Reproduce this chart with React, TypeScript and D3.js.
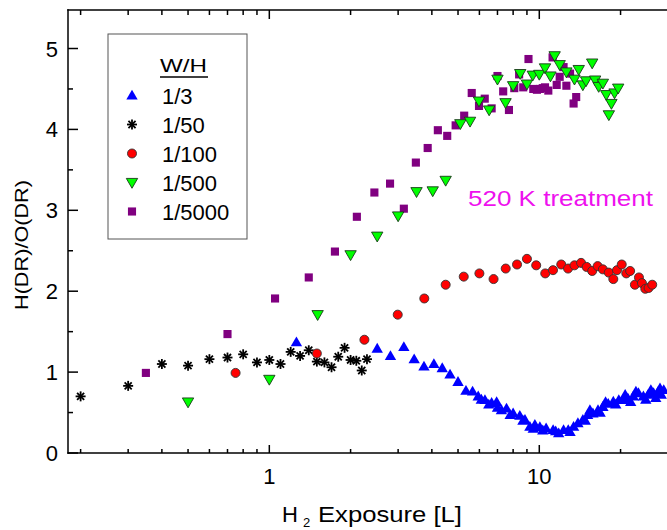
import React, { useEffect } from "react";
import * as d3 from "d3";

// ---- data ----
const blueX = [1.26, 2.51, 2.81, 3.15, 3.44, 3.74, 4.07, 4.37, 4.67, 5.0, 5.35, 5.66, 5.94, 6.1, 6.29, 6.5, 6.66, 6.95, 7.0, 7.24, 7.56, 7.8, 8.0, 8.47, 8.7, 8.85, 9.23, 9.5, 9.63, 10.05, 10.3, 10.6, 11.25, 11.5, 11.8, 12.3, 12.8, 13.0, 13.4, 13.9, 14.5, 14.8, 15.1, 15.4, 15.8, 16.5, 16.8, 17.2, 17.6, 18.0, 18.8, 19.2, 19.7, 20.4, 20.8, 21.3, 21.8, 22.3, 22.8, 23.3, 24.3, 24.8, 25.3, 25.9, 26.5, 27.0, 27.6, 28.0, 28.3, 28.9];
const blueY = [1.37, 1.29, 1.2, 1.31, 1.16, 1.07, 1.1, 1.05, 0.97, 0.88, 0.77, 0.76, 0.7, 0.66, 0.655, 0.6, 0.62, 0.63, 0.56, 0.53, 0.55, 0.47, 0.49, 0.46, 0.4, 0.41, 0.325, 0.3, 0.35, 0.32, 0.28, 0.305, 0.285, 0.27, 0.245, 0.285, 0.285, 0.26, 0.325, 0.37, 0.41, 0.4, 0.47, 0.53, 0.49, 0.53, 0.5, 0.57, 0.63, 0.61, 0.635, 0.6, 0.655, 0.655, 0.72, 0.675, 0.63, 0.7, 0.76, 0.74, 0.7, 0.66, 0.72, 0.78, 0.74, 0.68, 0.76, 0.8, 0.72, 0.78];

const starX = [0.2, 0.3, 0.4, 0.5, 0.6, 0.7, 0.8, 0.9, 1.0, 1.1, 1.2, 1.3, 1.4, 1.5, 1.6, 1.7, 1.8, 1.9, 2.0, 2.1, 2.2, 2.3];
const starY = [0.7, 0.83, 1.1, 1.08, 1.16, 1.18, 1.22, 1.12, 1.15, 1.1, 1.25, 1.2, 1.27, 1.13, 1.12, 1.06, 1.19, 1.3, 1.15, 1.14, 1.02, 1.16];

const redX = [0.75, 1.5, 2.25, 2.99, 3.75, 4.5, 5.25, 6.0, 6.77, 7.51, 8.27, 9.0, 9.74, 10.52, 11.24, 12.06, 12.78, 13.5, 14.28, 14.98, 15.7, 16.45, 17.2, 18.08, 18.8, 19.4, 20.2, 21.0, 21.7, 22.6, 23.4, 24.0, 24.7, 25.4, 26.2];
const redY = [0.99, 1.23, 1.4, 1.71, 1.91, 2.08, 2.18, 2.22, 2.15, 2.28, 2.33, 2.4, 2.32, 2.22, 2.26, 2.33, 2.28, 2.32, 2.35, 2.3, 2.25, 2.31, 2.27, 2.23, 2.15, 2.26, 2.33, 2.22, 2.25, 2.08, 2.17, 2.1, 2.03, 2.04, 2.08];

const greenX = [0.5, 1.0, 1.51, 2.0, 2.51, 3.0, 3.51, 4.03, 4.5, 5.1, 5.54, 5.98, 6.52, 7.0, 7.5, 8.0, 8.5, 9.0, 9.46, 10.0, 10.5, 11.0, 11.4, 11.9, 12.6, 13.5, 14.0, 14.5, 14.9, 15.7, 16.1, 16.6, 17.2, 17.7, 18.1, 18.5, 19.0, 19.6];
const greenY = [0.63, 0.91, 1.71, 2.45, 2.68, 2.93, 3.23, 3.24, 3.37, 4.07, 4.1, 4.35, 4.24, 4.62, 4.33, 4.54, 4.69, 4.56, 4.67, 4.68, 4.76, 4.66, 4.91, 4.8, 4.71, 4.62, 4.74, 4.55, 4.6, 4.82, 4.61, 4.53, 4.57, 4.43, 4.18, 4.32, 4.45, 4.51];

const purpleX = [0.349, 0.7, 1.05, 1.4, 1.75, 2.11, 2.45, 2.8, 3.15, 3.49, 3.86, 4.21, 4.56, 4.9, 5.27, 5.62, 5.98, 6.28, 6.66, 7.0, 7.35, 7.72, 8.08, 8.42, 8.72, 9.12, 9.5, 9.8, 10.05, 10.3, 10.5, 10.8, 11.2, 11.6, 11.9, 12.3, 12.6, 13.0, 13.4, 13.7];
const purpleY = [0.99, 1.47, 1.91, 2.17, 2.49, 2.92, 3.22, 3.33, 3.02, 3.59, 3.77, 3.99, 3.92, 4.05, 4.17, 4.45, 4.29, 4.38, 4.26, 4.66, 4.47, 4.24, 4.51, 4.68, 4.52, 4.87, 4.5, 4.49, 4.5, 4.51, 4.52, 4.48, 4.89, 4.55, 4.65, 4.77, 4.54, 4.69, 4.32, 4.4];

const legendLabels = ["1/3", "1/50", "1/100", "1/500", "1/5000"];
const legendKinds = ["tri-up", "star", "circle", "tri-down", "square"];
const yTicks = [0, 1, 2, 3, 4, 5];
const yMinorTicks = [0.5, 1.5, 2.5, 3.5, 4.5];
const xMajorTicks = [1, 10];
const xMinorTicks = [0.2, 0.3, 0.4, 0.5, 0.6, 0.7, 0.8, 0.9, 2, 3, 4, 5, 6, 7, 8, 9, 20];

const W = 667;
const H = 530;
const FONT = "'Liberation Sans', Arial, Helvetica, sans-serif";

const x = d3.scaleLog().domain([0.1796, 29.72]).range([68, 667]);
const y = d3.scaleLinear().domain([0, 5.476]).range([453, 10]);

const triUp = d3.symbol().type(d3.symbolTriangle).size(56)();
const triDown = d3.symbol().type(d3.symbolTriangle).size(56)();
const sq = d3.symbol().type(d3.symbolSquare).size(66)();
const circ = d3.symbol().type(d3.symbolCircle).size(64)();

function Marker({ kind, cx, cy }: { kind: string; cx: number; cy: number }) {
  if (kind === "tri-up")
    return <path d={triUp} transform={`translate(${cx},${cy + 0.8})`} fill="#0000ff" />;
  if (kind === "tri-down")
    return (
      <path d={triDown} transform={`translate(${cx},${cy - 0.8}) rotate(180)`} fill="#00ff00" stroke="#1a3a1a" strokeWidth={0.9} />
    );
  if (kind === "square") return <path d={sq} transform={`translate(${cx},${cy})`} fill="#800080" />;
  if (kind === "circle")
    return <path d={circ} transform={`translate(${cx},${cy})`} fill="#ff0000" stroke="#333" strokeWidth={0.9} />;
  const r = 5;
  const d = r * Math.SQRT1_2;
  return (
    <g transform={`translate(${cx},${cy})`} stroke="#000" strokeWidth={1.8}>
      <line x1={-r} y1={0} x2={r} y2={0} />
      <line x1={0} y1={-r} x2={0} y2={r} />
      <line x1={-d} y1={-d} x2={d} y2={d} />
      <line x1={-d} y1={d} x2={d} y2={-d} />
    </g>
  );
}

function Series({ xs, ys, kind }: { xs: number[]; ys: number[]; kind: string }) {
  return (
    <g>
      {xs.map((v, i) => (
        <Marker key={i} kind={kind} cx={x(v)} cy={y(ys[i])} />
      ))}
    </g>
  );
}

export default function App() {
  useEffect(() => {
    document.body.style.margin = "0";
  }, []);
  const legendY0 = 95.5;
  const legendStep = 29;
  return (
    <div style={{ position: "absolute", left: 0, top: 0 }}>
      <svg width={W} height={H} style={{ display: "block", background: "#fff" }} fontFamily={FONT}>
        {/* data */}
        <Series xs={starX} ys={starY} kind="star" />
        <Series xs={redX} ys={redY} kind="circle" />
        <Series xs={purpleX} ys={purpleY} kind="square" />
        <Series xs={greenX} ys={greenY} kind="tri-down" />
        <Series xs={blueX} ys={blueY} kind="tri-up" />

        {/* axes */}
        <g stroke="#000" strokeWidth={1.5} fill="none">
          <line x1={68} y1={9.25} x2={68} y2={453.75} />
          <line x1={67.25} y1={10} x2={W} y2={10} />
          <line x1={67.25} y1={453} x2={W} y2={453} />
          {yTicks.map((t) => (
            <line key={"ym" + t} x1={68} x2={78} y1={y(t)} y2={y(t)} />
          ))}
          {yMinorTicks.map((t) => (
            <line key={"yn" + t} x1={68} x2={73} y1={y(t)} y2={y(t)} />
          ))}
          {xMajorTicks.map((t) => (
            <g key={"xm" + t}>
              <line x1={x(t)} x2={x(t)} y1={453} y2={445} />
              <line x1={x(t)} x2={x(t)} y1={10} y2={19} />
            </g>
          ))}
          {xMinorTicks.map((t) => (
            <g key={"xn" + t}>
              <line x1={x(t)} x2={x(t)} y1={453} y2={449} />
              <line x1={x(t)} x2={x(t)} y1={10} y2={15} />
            </g>
          ))}
        </g>

        {/* tick labels */}
        <g fontSize={22} fill="#000">
          {yTicks.map((t) => (
            <text key={"yl" + t} x={58} y={y(t) + 8} textAnchor="end">
              {t}
            </text>
          ))}
          {xMajorTicks.map((t) => (
            <text key={"xl" + t} x={x(t)} y={484} textAnchor="middle">
              {t}
            </text>
          ))}
        </g>

        {/* axis titles */}
        <g fill="#000" fontSize={22}>
          <text x={282} y={522}>H</text>
          <text x={303} y={527} fontSize={13}>2</text>
          <text x={318} y={522} textLength={144} lengthAdjust="spacingAndGlyphs">
            Exposure [L]
          </text>
          <text
            transform="translate(28,245) rotate(-90)"
            textAnchor="middle"
            fontSize={19}
            textLength={130}
            lengthAdjust="spacingAndGlyphs"
          >
            H(DR)/O(DR)
          </text>
        </g>

        {/* annotation */}
        <text x={468} y={206} fontSize={22} fill="#ee11ee" textLength={185} lengthAdjust="spacingAndGlyphs">
          520 K treatment
        </text>

        {/* legend */}
        <g>
          <rect x={108} y={34} width={139} height={205} fill="#fff" stroke="#555" strokeWidth={1} />
          <text x={160} y={72} fontSize={19} textLength={47} lengthAdjust="spacingAndGlyphs">
            W/H
          </text>
          <line x1={160} x2={208} y1={77} y2={77} stroke="#000" strokeWidth={1.5} />
          {legendLabels.map((lab, i) => (
            <g key={lab}>
              <Marker kind={legendKinds[i]} cx={132} cy={legendY0 + i * legendStep} />
              <text x={162} y={legendY0 + i * legendStep + 8} fontSize={22}>
                {lab}
              </text>
            </g>
          ))}
        </g>
      </svg>
    </div>
  );
}
